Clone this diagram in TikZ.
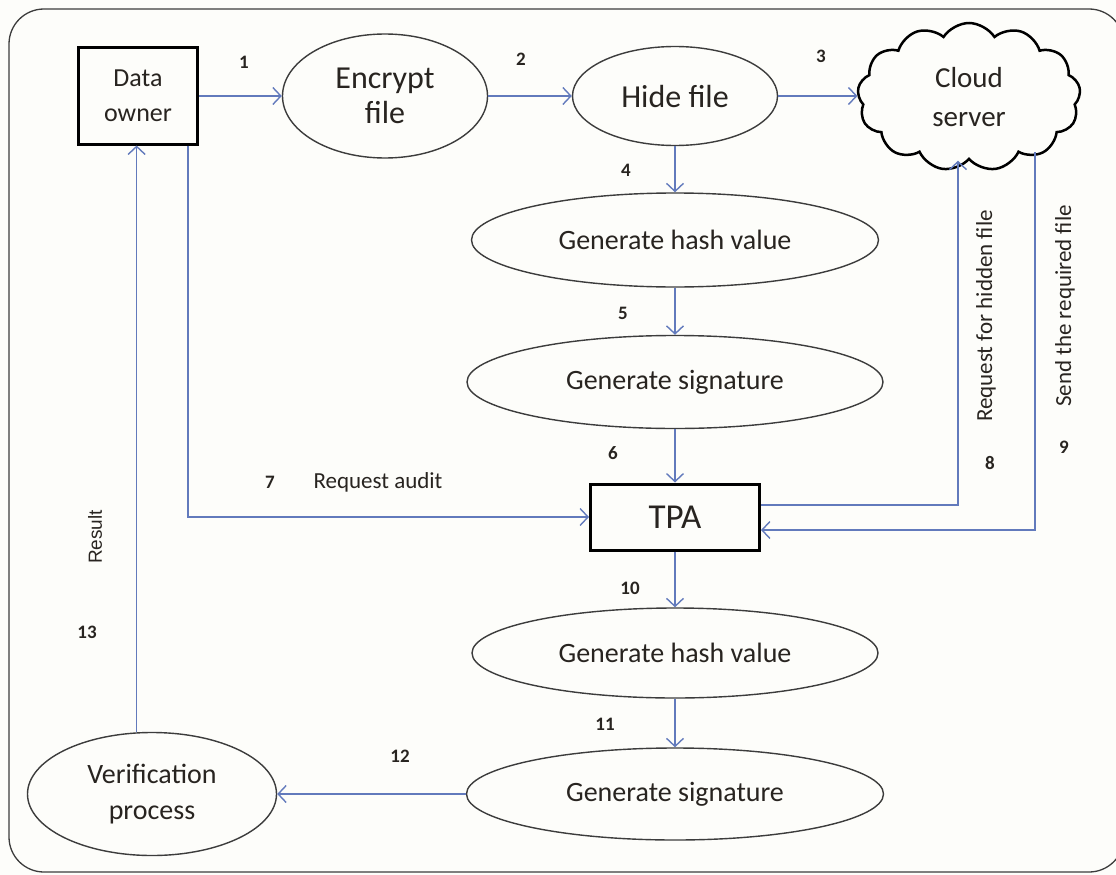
\documentclass[tikz,border=0pt]{standalone}
\usepackage{fontspec}
\setmainfont{Carlito}
\newfontfamily\arialfont{Liberation Sans}
\usetikzlibrary{shapes.geometric,shapes.symbols,arrows.meta}
\definecolor{arrowblue}{RGB}{98,122,188}
\definecolor{paper}{RGB}{253,253,250}
\definecolor{framegray}{RGB}{60,60,60}
\definecolor{ink}{RGB}{40,36,32}
\begin{document}
\begin{tikzpicture}[x=1pt,y=-1pt,
	>={Straight Barb[length=8pt,width=17pt]},
	ell/.style={ellipse,draw=framegray,line width=1.4pt,inner sep=0pt,text=ink,font=\fontsize{28}{28}\selectfont},
	box/.style={rectangle,draw=black,line width=3pt,inner sep=0pt,text=ink},
	arr/.style={arrowblue,line width=1.4pt},
	num/.style={text=ink,font=\fontsize{19}{19}\selectfont\bfseries},
	lbl/.style={text=ink,font=\fontsize{23}{23}\selectfont}]
	%background and frame
	\useasboundingbox (0,0) rectangle (1116,875);
	\fill [paper] (0,0) rectangle (1116,875);
	\draw [framegray,line width=1.3pt,rounded corners=35pt] (9,9) rectangle (1124,872);
	
	%nodes
	\node [box,minimum width=119,minimum height=96,align=center,font=\fontsize{26}{35}\selectfont] (owner) at (138,96) {Data\\owner};
	\node [ell,minimum width=205,minimum height=124,align=center,font=\fontsize{32}{35}\selectfont] (encrypt) at (385,96) {Encrypt\\file};
	\node [ell,minimum width=205,minimum height=99,font=\fontsize{32}{32}\selectfont] (hide) at (675,96) {Hide file};
	\node [cloud,draw=black,line width=2.5pt,cloud puffs=13,cloud puff arc=115,aspect=1.5,minimum width=223,minimum height=148,inner sep=0pt,align=center,text=ink,font=\fontsize{29}{39}\selectfont] (cloud) at (969,97) {Cloud\\server};
	\node [ell,minimum width=407,minimum height=94] (hash1) at (675,240) {Generate hash value};
	\node [ell,minimum width=416,minimum height=93] (sig1) at (675,382) {Generate signature};
	\node [box,minimum width=169,minimum height=66,font=\fontsize{35}{35}\selectfont] (tpa) at (675,517) {TPA};
	\node [ell,minimum width=406,minimum height=90] (hash2) at (675,653) {Generate hash value};
	\node [ell,minimum width=417,minimum height=92] (sig2) at (675,794) {Generate signature};
	\node [ell,minimum width=249,minimum height=123,align=center,font=\fontsize{28}{36}\selectfont] (verif) at (152,794) {Verification\\process};
	
	%arrows
	\draw [arr][->] (owner) -- (encrypt);
	\draw [arr][->] (encrypt) -- (hide);
	\draw [arr][->] (hide.east) -- (hide.east -| cloud.west);
	\draw [arr][->] (hide) -- (hash1);
	\draw [arr][->] (hash1) -- (sig1);
	\draw [arr][->] (sig1) -- (tpa);
	\draw [arr][->] ([xshift=50pt]owner.south) |- (tpa.west);
	\draw [arr][->] ([yshift=12pt]tpa.east) -| ([xshift=-11pt]cloud.south);
	\coordinate (c9) at (1035,152);
	\draw [arr][->] (c9) |- ([yshift=-13pt]tpa.east);
	\draw [arr][->] (tpa) -- (hash2);
	\draw [arr][->] (hash2) -- (sig2);
	\draw [arr][->] (sig2) -- (verif);
	\draw [arr][->] (verif.104) -- (verif.104 |- owner.south);
	
	%numbers and labels
	\node [num] (n1) at (244,62) {1};
	\node [num] (n2) at (521,59) {2};
	\node [num] (n3) at (821,56) {3};
	\node [num] (n4) at (626,170) {4};
	\node [num] (n5) at (623,313) {5};
	\node [num] (n6) at (613,453) {6};
	\node [num] (n7) at (270,482) {7};
	\node [num] (n8) at (990,463) {8};
	\node [num] (n9) at (1064,447) {9};
	\node [num] (n10) at (630,588) {10};
	\node [num] (n11) at (605,724) {11};
	\node [num] (n12) at (400,756) {12};
	\node [num] (n13) at (87,632) {13};
	\node [lbl] (audit) at (378,482) {Request audit};
	\node [lbl,rotate=90] (req) at (986,316) {Request for hidden file};
	\node [lbl,rotate=90] (send) at (1065,306) {Send the required file};
	\node [text=ink,rotate=90,font=\arialfont\fontsize{19}{19}\selectfont] (res) at (95,537) {Result};
\end{tikzpicture}
\end{document}
